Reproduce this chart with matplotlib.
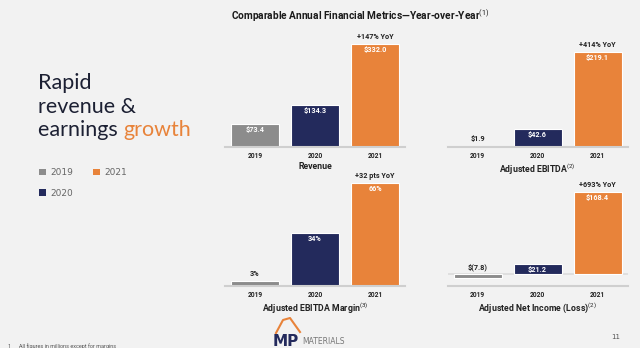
import matplotlib.pyplot as plt
from matplotlib.patches import Patch
from matplotlib.lines import Line2D

W, H = 640, 348

years = ['2019', '2020', '2021']
colors = ['#8c8c8c', '#232a5c', '#e8833a']

revenue = [73.4, 134.3, 332.0]
revenue_labels = ['$73.4', '$134.3', '$332.0']
ebitda = [1.9, 42.6, 219.1]
ebitda_labels = ['$1.9', '$42.6', '$219.1']
margin = [3, 34, 66]
margin_labels = ['3%', '34%', '66%']
net_income = [-7.8, 21.2, 168.4]
net_income_labels = ['$(7.8)', '$21.2', '$168.4']

yoy = ['+147% YoY', '+414% YoY', '+32 pts YoY', '+693% YoY']
titles = ['Revenue', 'Adjusted EBITDA$^{(2)}$', 'Adjusted EBITDA Margin$^{(3)}$',
          'Adjusted Net Income (Loss)$^{(2)}$']

BG = '#f2f2f2'
NARROW = ['Roboto', 'DejaVu Sans']
plt.rcParams['mathtext.fontset'] = 'custom'
plt.rcParams['mathtext.rm'] = 'Roboto'
plt.rcParams['mathtext.it'] = 'Roboto'
plt.rcParams['mathtext.bf'] = 'Roboto:bold'


def box(left, top, right, bottom):
    return [left / W, 1 - bottom / H, (right - left) / W, (bottom - top) / H]


def panel(fig, rect, values, labels, ylim, title, growth, zero_line=False):
    ax = fig.add_axes(rect)
    ax.set_facecolor('none')
    ax.bar(range(3), values, width=0.8, color=colors, edgecolor='white', linewidth=0.8)
    ax.set_xlim(-0.5, 2.5)
    ax.set_ylim(*ylim)
    for s in ['top', 'right', 'left']:
        ax.spines[s].set_visible(False)
    ax.spines['bottom'].set_color('#cfcfcf')
    ax.spines['bottom'].set_linewidth(1.5)
    if zero_line:
        ax.axhline(0, color='#dcdcdc', lw=1.2, zorder=0)
    ax.set_yticks([])
    ax.set_xticks(range(3))
    ax.set_xticklabels(years, fontsize=4.8, fontweight='bold', color='#222222', family=NARROW)
    ax.tick_params(axis='x', length=0, pad=3.3)
    ax.set_xlabel(title, fontsize=6.3, fontweight='bold', color='#222222', labelpad=1.5, family=NARROW)
    for i, (v, lab) in enumerate(zip(values, labels)):
        if v / ylim[1] > 0.1:
            ax.annotate(lab, (i, v), xytext=(0, -6), textcoords='offset pixels', ha='center',
                        va='center', fontsize=5.2, fontweight='bold', color='white', family=NARROW)
        else:
            ax.annotate(lab, (i, max(v, 0)), xytext=(0, 7), textcoords='offset pixels', ha='center',
                        va='center', fontsize=5.2, fontweight='bold', color='#222222', family=NARROW)
    ax.annotate(growth, (2, values[2]), xytext=(0, 7), textcoords='offset pixels', ha='center',
                va='center', fontsize=5.2, fontweight='bold', color='#222222', family=NARROW)
    return ax


fig = plt.figure(figsize=(W / 100, H / 100), dpi=100, facecolor=BG)

panel(fig, box(225, 35.4, 405, 147), revenue, revenue_labels, (0, 360), titles[0], yoy[0])
panel(fig, box(447.5, 38.5, 627.5, 147), ebitda, ebitda_labels, (0, 250), titles[1], yoy[1])
panel(fig, box(225, 176.8, 405, 286), margin, margin_labels, (0, 70), titles[2], yoy[2])
panel(fig, box(447.5, 186.3, 627.5, 286), net_income, net_income_labels, (-24.6, 180), titles[3],
      yoy[3], zero_line=True)

# header
fig.text(360 / W, 1 - 16 / H, 'Comparable Annual Financial Metrics\u2014Year-over-Year$^{(1)}$',
         ha='center', va='center', fontsize=7.3, fontweight='bold', color='#1a1a1a', family=NARROW)

# left headline
dark = '#1c2033'
fs = 15.5
fig.text(38 / W, 1 - 83 / H, 'Rapid', fontsize=fs, color=dark, va='center', family='Lato')
fig.text(38 / W, 1 - 107 / H, 'revenue &', fontsize=fs, color=dark, va='center', family='Lato')
t = fig.text(38 / W, 1 - 130 / H, 'earnings ', fontsize=fs, color=dark, va='center', family='Lato')
plt.annotate('growth', xy=(1, 0.5), xycoords=t, va='center', ha='left', fontsize=fs,
             color='#e8833a', family='Lato', annotation_clip=False)

# legend
handles = [Patch(facecolor=c, edgecolor='none') for c in colors]
fig.legend(handles, years, ncol=2, loc='upper left', bbox_to_anchor=(31 / W, 1 - 160 / H),
           frameon=False, fontsize=6.5, labelcolor='#666666', handlelength=0.75, handleheight=0.75,
           handletextpad=0.5, columnspacing=2.2, labelspacing=1.3)

# logo
arc_x = [276, 283, 290, 300]
arc_y = [333, 320, 318, 332]
fig.add_artist(Line2D([x / W for x in arc_x], [1 - y / H for y in arc_y], color='#e8833a', lw=1.5))
fig.text(273 / W, 1 - 341 / H, 'MP', fontsize=11, fontweight='bold', color='#232a5c', va='center',
         family='DejaVu Sans')
fig.text(302 / W, 1 - 342 / H, 'MATERIALS', fontsize=5.5, color='#777777', va='center', family='DejaVu Sans')

# footer
fig.text(611 / W, 1 - 337 / H, '11', fontsize=5, color='#555555', va='center')
fig.text(7 / W, 1 - 346 / H, '1', fontsize=4, color='#555555', va='center', family=NARROW)
fig.text(19 / W, 1 - 346 / H, 'All figures in millions except for margins', fontsize=4, color='#555555',
         va='center', family=NARROW)

fig.savefig('out.png', dpi=100, facecolor=BG)
